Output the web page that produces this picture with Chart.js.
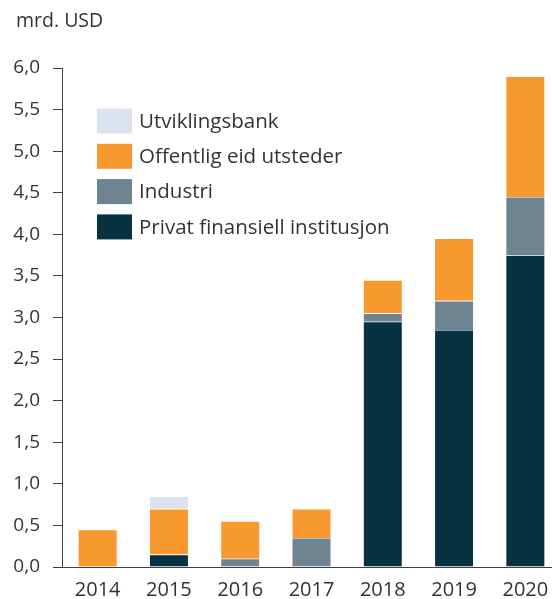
<!DOCTYPE html>
<html>
<head>
<meta charset="utf-8">
<script src="https://cdn.jsdelivr.net/npm/chart.js@4/dist/chart.umd.min.js"></script>
<style>
  html, body { margin: 0; padding: 0; background: #fff; overflow: hidden; }
  #wrap { width: 562px; height: 599px; }
</style>
</head>
<body>
<div id="wrap"><canvas id="greenBonds" width="562" height="599"></canvas></div>
<script>
const years = ["2014", "2015", "2016", "2017", "2018", "2019", "2020"];
const privat = [0, 0.15, 0, 0, 2.95, 2.85, 3.75];
const industri = [0, 0, 0.1, 0.35, 0.1, 0.35, 0.7];
const offentlig = [0.45, 0.55, 0.45, 0.35, 0.4, 0.75, 1.45];
const utvikling = [0, 0.15, 0, 0, 0, 0, 0];

const FONT = "'Open Sans', 'Noto Sans', sans-serif";
const TEXT = "#333333";

// legend inside the plot, drawn top-down in reverse dataset order
const boxLegend = {
  id: "boxLegend",
  afterDraw(chart) {
    const ctx = chart.ctx;
    const sets = chart.data.datasets.slice().reverse();
    ctx.save();
    ctx.font = "20.5px " + FONT;
    ctx.textBaseline = "middle";
    sets.forEach((ds, i) => {
      const y = 121 + i * 35.3;
      ctx.fillStyle = ds.backgroundColor;
      ctx.fillRect(97, y - 12.5, 35, 25);
      ctx.fillStyle = TEXT;
      ctx.fillText(ds.label, 139, y + 1);
    });
    // unit label
    ctx.font = "19.5px " + FONT;
    ctx.fillText("mrd. USD", 16, 21);
    ctx.restore();
  },
};

const ctx = document.getElementById("greenBonds").getContext("2d");
new Chart(ctx, {
  type: "bar",
  data: {
    labels: years,
    datasets: [
      { label: "Privat finansiell institusjon", data: privat, backgroundColor: "#063241" },
      { label: "Industri", data: industri, backgroundColor: "#6e8490" },
      { label: "Offentlig eid utsteder", data: offentlig, backgroundColor: "#f7992e" },
      { label: "Utviklingsbank", data: utvikling, backgroundColor: "#dde3ee" },
    ],
  },
  options: {
    responsive: false,
    animation: false,
    layout: { padding: { top: 68, left: 0, right: 1, bottom: 0 } },
    datasets: {
      bar: {
        barPercentage: 0.55,
        categoryPercentage: 1,
        borderColor: "#ffffff",
        borderWidth: 0.6,
      },
    },
    plugins: {
      legend: { display: false },
      tooltip: { enabled: false },
    },
    scales: {
      x: {
        stacked: true,
        grid: { display: false },
        border: { display: true, color: "#404040", width: 1 },
        ticks: { color: TEXT, font: { family: FONT, size: 20 }, padding: 3 },
        afterFit: (scale) => { scale.height = 32; },
      },
      y: {
        stacked: true,
        min: 0,
        max: 6,
        grid: { drawOnChartArea: false, drawTicks: true, tickLength: 9, color: "#404040" },
        border: { display: true, color: "#404040", width: 1 },
        ticks: {
          stepSize: 0.5,
          color: TEXT,
          font: { family: FONT, size: 19 },
          padding: 13,
          callback: (v) => v.toFixed(1).replace(".", ","),
        },
        afterFit: (scale) => { scale.width = 62; },
      },
    },
  },
  plugins: [boxLegend],
});
</script>
</body>
</html>
